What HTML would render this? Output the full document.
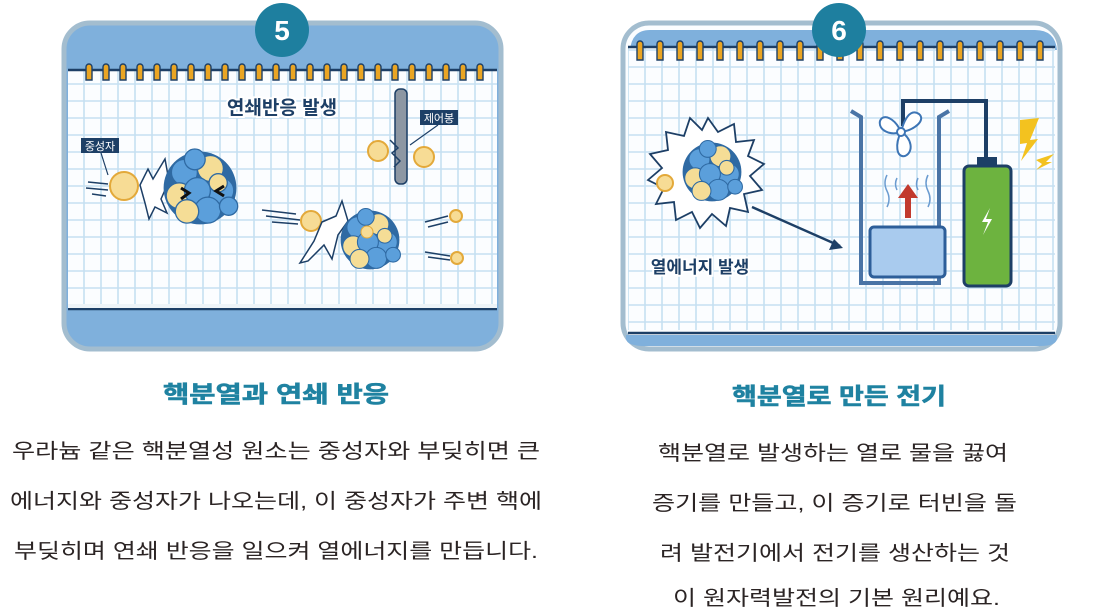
<!DOCTYPE html>
<html><head><meta charset="utf-8"><style>
html,body{margin:0;padding:0;background:#fff;}
svg{display:block;}
text{font-family:"Liberation Sans","Noto Sans CJK KR",sans-serif;}
</style></head><body>
<svg width="1120" height="612" viewBox="0 0 1120 612" xmlns="http://www.w3.org/2000/svg">
<defs>
<pattern id="grid" width="17" height="17" patternUnits="userSpaceOnUse">
<rect width="17" height="17" fill="#fbfdff"/>
<path d="M16 0V17M0 16H17" stroke="#c6e0f2" stroke-width="1.6" fill="none"/>
</pattern>
<g id="nuc">
<circle cx="0" cy="0" r="28" fill="#2f6aa3"/>
<circle cx="-12" cy="-12" r="10" fill="#5b9fdb" stroke="#2f6aa3"/>
<circle cx="8" cy="-15" r="10" fill="#f5dd96" stroke="#2f6aa3"/>
<circle cx="16" cy="2" r="10" fill="#5b9fdb" stroke="#2f6aa3"/>
<circle cx="-16" cy="6" r="10" fill="#f5dd96" stroke="#2f6aa3"/>
<circle cx="-2" cy="2" r="10" fill="#5b9fdb" stroke="#2f6aa3"/>
<circle cx="6" cy="17" r="10" fill="#5b9fdb" stroke="#2f6aa3"/>
<circle cx="-10" cy="18" r="9" fill="#f5dd96" stroke="#2f6aa3"/>
<circle cx="14" cy="-4" r="7" fill="#f5dd96" stroke="#2f6aa3"/>
<circle cx="-4" cy="-22" r="8" fill="#5b9fdb" stroke="#2f6aa3"/>
<circle cx="22" cy="14" r="7" fill="#5b9fdb" stroke="#2f6aa3"/>
</g>
</defs>

<!-- LEFT CARD -->
<rect x="64" y="23" width="437" height="326" rx="26" fill="#7fb0dc" stroke="#a3bdcf" stroke-width="5"/>
<rect x="68" y="70" width="429" height="234" fill="url(#grid)"/>
<line x1="68" y1="70" x2="497" y2="70" stroke="#1d3f66" stroke-width="2.5"/>
<line x1="68" y1="309" x2="497" y2="309" stroke="#1d3f66" stroke-width="2.5"/>
<rect x="68" y="304" width="429" height="4" fill="#eef4f8"/>
<g stroke="#1d3f66" stroke-width="1.4" fill="#eaa523">
<path d="M86 67a3 3 0 0 1 6 0v13h-6z"/><path d="M103 67a3 3 0 0 1 6 0v13h-6z"/><path d="M120 67a3 3 0 0 1 6 0v13h-6z"/><path d="M137 67a3 3 0 0 1 6 0v13h-6z"/><path d="M154 67a3 3 0 0 1 6 0v13h-6z"/><path d="M171 67a3 3 0 0 1 6 0v13h-6z"/><path d="M188 67a3 3 0 0 1 6 0v13h-6z"/><path d="M205 67a3 3 0 0 1 6 0v13h-6z"/><path d="M222 67a3 3 0 0 1 6 0v13h-6z"/><path d="M239 67a3 3 0 0 1 6 0v13h-6z"/><path d="M256 67a3 3 0 0 1 6 0v13h-6z"/><path d="M273 67a3 3 0 0 1 6 0v13h-6z"/><path d="M290 67a3 3 0 0 1 6 0v13h-6z"/><path d="M307 67a3 3 0 0 1 6 0v13h-6z"/><path d="M324 67a3 3 0 0 1 6 0v13h-6z"/><path d="M341 67a3 3 0 0 1 6 0v13h-6z"/><path d="M358 67a3 3 0 0 1 6 0v13h-6z"/><path d="M375 67a3 3 0 0 1 6 0v13h-6z"/><path d="M392 67a3 3 0 0 1 6 0v13h-6z"/><path d="M409 67a3 3 0 0 1 6 0v13h-6z"/><path d="M426 67a3 3 0 0 1 6 0v13h-6z"/><path d="M443 67a3 3 0 0 1 6 0v13h-6z"/><path d="M460 67a3 3 0 0 1 6 0v13h-6z"/><path d="M477 67a3 3 0 0 1 6 0v13h-6z"/>
</g>
<circle cx="282" cy="30" r="27" fill="#1e7f9f"/>
<text x="282" y="40" text-anchor="middle" font-size="28" font-weight="bold" fill="#fff">5</text>

<text x="282" y="114" text-anchor="middle" font-size="19" font-weight="bold" fill="#1d3f66" stroke="#fff" stroke-width="4" paint-order="stroke">연쇄반응 발생</text>
<rect x="395" y="89" width="12" height="95" rx="5" fill="#8d97a3" stroke="#1d3f66" stroke-width="1.5"/>
<rect x="420" y="110" width="38" height="15" fill="#1d3f66"/>
<text x="439" y="122" text-anchor="middle" font-size="11" fill="#fff">제어봉</text>
<line x1="438" y1="125" x2="410" y2="145" stroke="#1d3f66" stroke-width="1.2"/>
<circle cx="378" cy="151" r="10" fill="#f7dc95" stroke="#e3a93a" stroke-width="2"/>
<circle cx="424" cy="157" r="10" fill="#f7dc95" stroke="#e3a93a" stroke-width="2"/>
<path d="M390 140l8 8-6 5 8 8-6 6" fill="none" stroke="#1d3f66" stroke-width="1.5"/>
<rect x="81" y="138" width="38" height="15" fill="#1d3f66"/>
<text x="100" y="150" text-anchor="middle" font-size="11" fill="#fff">중성자</text>
<line x1="101" y1="153" x2="108" y2="175" stroke="#1d3f66" stroke-width="1.2"/>
<circle cx="124" cy="186" r="14" fill="#f7dc95" stroke="#e3a93a" stroke-width="2"/>
<g stroke="#1d3f66" stroke-width="1.5"><line x1="88" y1="182" x2="108" y2="184"/><line x1="86" y1="188" x2="108" y2="190"/><line x1="92" y1="194" x2="106" y2="196"/></g>
<path d="M140 185l8-16 5 10 12-20 4 22-8 18 6 14-12-6-6 12-4-16z" fill="#fff" stroke="#1d3f66" stroke-width="1.5"/>
<use href="#nuc" transform="translate(200 188) scale(1.3)"/>
<path d="M181 188l8 5-8 6M224 186l-8 5 8 5" fill="none" stroke="#111" stroke-width="3"/>
<g stroke="#1d3f66" stroke-width="1.5"><line x1="262" y1="210" x2="296" y2="214"/><line x1="266" y1="216" x2="300" y2="220"/><line x1="272" y1="222" x2="298" y2="224"/></g>
<circle cx="311" cy="221" r="10" fill="#f7dc95" stroke="#e3a93a" stroke-width="2"/>
<path d="M322 222l14-6 6-15 6 20-10 14-6 24-8-14-16 16-8 2 14-22z" fill="#fff" stroke="#1d3f66" stroke-width="1.5"/>
<use href="#nuc" transform="translate(370 240) scale(1.05)"/>
<circle cx="367" cy="232" r="6" fill="#f7dc95" stroke="#e3a93a"/>
<g stroke="#1d3f66" stroke-width="1.5"><line x1="425" y1="222" x2="448" y2="216"/><line x1="428" y1="227" x2="448" y2="222"/><line x1="425" y1="252" x2="450" y2="256"/><line x1="428" y1="257" x2="450" y2="260"/></g>
<circle cx="456" cy="216" r="6" fill="#f7dc95" stroke="#e3a93a" stroke-width="2"/>
<circle cx="457" cy="258" r="6" fill="#f7dc95" stroke="#e3a93a" stroke-width="2"/>

<!-- RIGHT CARD -->
<rect x="623" y="23" width="437" height="326" rx="26" fill="#fbfdff" stroke="#a3bdcf" stroke-width="5"/>
<path d="M630 50Q632 30 650 30H1035Q1055 30 1057 50Z" fill="#7fb0dc"/>
<rect x="628" y="48" width="427" height="282" fill="url(#grid)"/>
<line x1="628" y1="47" x2="1055" y2="47" stroke="#1d3f66" stroke-width="2.5"/>
<line x1="628" y1="333" x2="1055" y2="333" stroke="#1d3f66" stroke-width="2.5"/>
<path d="M626 335H1057V338Q1057 346 1040 346H645Q626 346 626 338Z" fill="#7fb0dc"/>
<g stroke="#1d3f66" stroke-width="1.4" fill="#eaa523">
<path d="M637 44a3 3 0 0 1 6 0v16h-6z"/><path d="M657 44a3 3 0 0 1 6 0v16h-6z"/><path d="M677 44a3 3 0 0 1 6 0v16h-6z"/><path d="M697 44a3 3 0 0 1 6 0v16h-6z"/><path d="M717 44a3 3 0 0 1 6 0v16h-6z"/><path d="M737 44a3 3 0 0 1 6 0v16h-6z"/><path d="M757 44a3 3 0 0 1 6 0v16h-6z"/><path d="M777 44a3 3 0 0 1 6 0v16h-6z"/><path d="M797 44a3 3 0 0 1 6 0v16h-6z"/><path d="M817 44a3 3 0 0 1 6 0v16h-6z"/><path d="M837 44a3 3 0 0 1 6 0v16h-6z"/><path d="M857 44a3 3 0 0 1 6 0v16h-6z"/><path d="M877 44a3 3 0 0 1 6 0v16h-6z"/><path d="M897 44a3 3 0 0 1 6 0v16h-6z"/><path d="M917 44a3 3 0 0 1 6 0v16h-6z"/><path d="M937 44a3 3 0 0 1 6 0v16h-6z"/><path d="M957 44a3 3 0 0 1 6 0v16h-6z"/><path d="M977 44a3 3 0 0 1 6 0v16h-6z"/><path d="M997 44a3 3 0 0 1 6 0v16h-6z"/><path d="M1017 44a3 3 0 0 1 6 0v16h-6z"/><path d="M1037 44a3 3 0 0 1 6 0v16h-6z"/>
</g>
<circle cx="839" cy="30" r="27" fill="#1e7f9f"/>
<text x="839" y="40" text-anchor="middle" font-size="28" font-weight="bold" fill="#fff">6</text>
<!-- burst -->
<path d="M708 118l10 14 16-8 2 18 18-2-6 16 16 8-14 12 12 14-18 4 4 18-18-4-4 18-14-12-12 14-8-16-16 8-2-18-18 2 8-16-16-8 14-12-12-14 18-4-2-18 18 4 6-18 12 12z" fill="#fff" stroke="#1d3f66" stroke-width="1.8"/>
<use href="#nuc" transform="translate(712 172) scale(1.05)"/>
<circle cx="665" cy="183" r="8" fill="#f7dc95" stroke="#e3a93a" stroke-width="2"/>
<line x1="752" y1="207" x2="840" y2="246" stroke="#1d3f66" stroke-width="2.5"/>
<path d="M843 248l-14 2 5-11z" fill="#1d3f66"/>
<text x="700" y="273" text-anchor="middle" font-size="17" font-weight="bold" fill="#1d3f66" stroke="#fff" stroke-width="4" paint-order="stroke">열에너지 발생</text>
<path d="M851 111l10 6V283h78V117l10-6" fill="none" stroke="#4a74a6" stroke-width="4"/>
<rect x="870" y="227" width="75" height="50" rx="4" fill="#a9cbee" stroke="#2d5e99" stroke-width="3"/>
<path d="M905 218v-20h-7l10-14 10 14h-7v20z" fill="#c23a2e"/>
<g fill="none" stroke="#6a9bd0" stroke-width="1.5"><path d="M887 175q-4 8 0 16t0 16"/><path d="M928 175q-4 8 0 16t0 16"/><path d="M897 178q-3 6 0 12"/><path d="M918 178q-3 6 0 12"/></g>
<path d="M903 126V101h83v57" fill="none" stroke="#1d3f66" stroke-width="4"/>
<g fill="#fff" stroke="#3d75b5" stroke-width="2">
<path d="M901 132C890 136 878 130 880 121C883 113 895 118 901 132Z"/>
<path d="M901 132C904 120 910 108 919 114C926 120 915 130 901 132Z"/>
<path d="M901 132C912 138 914 152 905 156C896 158 895 144 901 132Z"/>
<circle cx="901" cy="132" r="4"/></g>
<rect x="977" y="157" width="20" height="9" fill="#1d3f66"/>
<rect x="964" y="166" width="47" height="120" rx="5" fill="#6db33f" stroke="#1d3f66" stroke-width="3"/>
<path d="M990 208l-8 14h6l-5 13 9-16h-6z" fill="#fff"/>
<path d="M1020 120l19-2-9 22 8-1-17 22 6-18-7 1z" fill="#f3c21f"/>
<path d="M1036 160l18-6-8 8 6 0-16 8 6-6z" fill="#f3c21f"/>

<!-- TEXT -->
<text x="276" y="402" text-anchor="middle" font-size="23" font-weight="bold" fill="#1f82a1" stroke="#1f82a1" stroke-width="0.6" textLength="226" lengthAdjust="spacingAndGlyphs">핵분열과 연쇄 반응</text>
<g font-size="20.5" fill="#2b2424">
<text x="12" y="458" textLength="528" lengthAdjust="spacingAndGlyphs">우라늄 같은 핵분열성 원소는 중성자와 부딪히면 큰</text>
<text x="10" y="508" textLength="532" lengthAdjust="spacingAndGlyphs">에너지와 중성자가 나오는데, 이 중성자가 주변 핵에</text>
<text x="14" y="558" textLength="524" lengthAdjust="spacingAndGlyphs">부딪히며 연쇄 반응을 일으켜 열에너지를 만듭니다.</text>
</g>
<text x="839" y="404" text-anchor="middle" font-size="23" font-weight="bold" fill="#1f82a1" stroke="#1f82a1" stroke-width="0.6" textLength="214" lengthAdjust="spacingAndGlyphs">핵분열로 만든 전기</text>
<g font-size="20.5" fill="#2b2424">
<text x="658" y="460" textLength="350" lengthAdjust="spacingAndGlyphs">핵분열로 발생하는 열로 물을 끓여</text>
<text x="652" y="510" textLength="365" lengthAdjust="spacingAndGlyphs">증기를 만들고, 이 증기로 터빈을 돌</text>
<text x="660" y="560" textLength="350" lengthAdjust="spacingAndGlyphs">려 발전기에서 전기를 생산하는 것</text>
<text x="673" y="605" textLength="327" lengthAdjust="spacingAndGlyphs">이 원자력발전의 기본 원리예요.</text>
</g>
</svg>
</body></html>
